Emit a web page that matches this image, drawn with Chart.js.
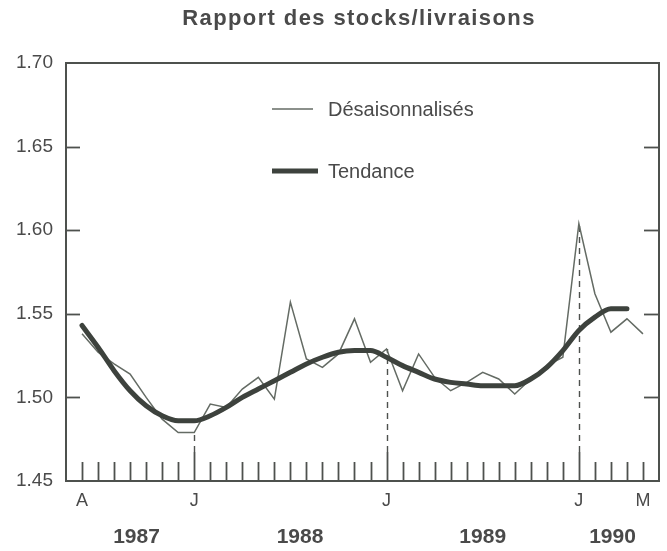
<!DOCTYPE html>
<html lang="fr">
<head>
<meta charset="utf-8">
<title>Rapport des stocks/livraisons</title>
<script src="https://cdn.jsdelivr.net/npm/chart.js@4.4.1/dist/chart.umd.min.js"></script>
<style>
  html, body { margin: 0; padding: 0; background: #ffffff; }
  #wrap { width: 667px; height: 551px; }
</style>
</head>
<body>
<div id="wrap"><canvas id="c" width="667" height="551"></canvas></div>
<script>
// Mois (index 0 = premier mois de la série, jusqu'à mai 1990)
const mois = Array.from({ length: 36 }, (_, i) => i);

// Repères de l'axe horizontal
const reperesMois = [0, 7, 19, 31, 35];
const etiquettesMois = ['A', 'J', 'J', 'J', 'M'];
const annees = ['1987', '1988', '1989', '1990'];
const centresAnnees = [3.4, 13.6, 25.0, 33.1];

// Rapport des stocks aux livraisons, données désaisonnalisées
const desaisonnalises = [
  1.538, 1.527, 1.520, 1.514, 1.500, 1.487, 1.479, 1.479, 1.496, 1.494,
  1.505, 1.512, 1.499, 1.557, 1.523, 1.518, 1.526, 1.547, 1.521, 1.529,
  1.504, 1.526, 1.512, 1.504, 1.509, 1.515, 1.511, 1.502, 1.511, 1.519,
  1.524, 1.604, 1.562, 1.539, 1.547, 1.538
];

// Tendance
const tendance = [
  1.543, 1.530, 1.516, 1.504, 1.495, 1.489, 1.486, 1.486, 1.489, 1.494,
  1.500, 1.505, 1.510, 1.515, 1.520, 1.524, 1.527, 1.528, 1.528, 1.524,
  1.519, 1.515, 1.511, 1.509, 1.508, 1.507, 1.507, 1.507, 1.511, 1.518,
  1.528, 1.540, 1.548, 1.553, 1.553, null
];

// Graduations de l'axe vertical
const graduationsY = [1.45, 1.50, 1.55, 1.60, 1.65, 1.70];

const FONT = "'Liberation Sans', Arial, Helvetica, sans-serif";
const ENCRE = '#4e514e';
const TEXTE = '#4a4a4a';

const habillage = {
  id: 'habillage',
  beforeDatasetsDraw(chart) {
    const { ctx, chartArea: a, scales: { x, y } } = chart;
    const trait = (x1, y1, x2, y2) => { ctx.beginPath(); ctx.moveTo(x1, y1); ctx.lineTo(x2, y2); ctx.stroke(); };
    ctx.save();
    ctx.strokeStyle = ENCRE;
    ctx.lineWidth = 1.8;
    // graduations mensuelles, vers l'intérieur
    const janviers = reperesMois.filter((m, k) => etiquettesMois[k] === 'J');
    mois.forEach(m => {
      const px = Math.round(x.getPixelForValue(m)) + 0.5;
      const h = janviers.includes(m) ? 29 : 19;
      trait(px, a.bottom, px, a.bottom - h);
    });
    // graduations verticales, des deux côtés
    graduationsY.slice(1, -1).forEach(v => {
      const py = Math.round(y.getPixelForValue(v)) + 0.5;
      trait(a.left, py, a.left + 14, py);
      trait(a.right - 15, py, a.right, py);
    });
    // pointillés des mois de janvier
    ctx.setLineDash([6, 5]);
    ctx.lineWidth = 1.4;
    janviers.forEach(m => {
      const px = Math.round(x.getPixelForValue(m)) + 0.5;
      trait(px, a.bottom - 29, px, y.getPixelForValue(desaisonnalises[m]));
    });
    // cadre
    ctx.setLineDash([]);
    ctx.lineWidth = 2;
    ctx.strokeRect(a.left, a.top, a.right - a.left, a.bottom - a.top);
    ctx.restore();
  },
  afterDraw(chart) {
    const { ctx, scales: { x } } = chart;
    ctx.save();
    // titre
    ctx.fillStyle = TEXTE;
    ctx.font = `bold 22px ${FONT}`;
    ctx.textAlign = 'center';
    ctx.textBaseline = 'middle';
    if ('letterSpacing' in ctx) ctx.letterSpacing = '1.4px';
    ctx.fillText('Rapport des stocks/livraisons', 359, 19);
    if ('letterSpacing' in ctx) ctx.letterSpacing = '0px';
    // années
    ctx.font = `bold 21px ${FONT}`;
    annees.forEach((an, k) => ctx.fillText(an, x.getPixelForValue(centresAnnees[k]), 537));
    // légende
    ctx.textAlign = 'left';
    ctx.font = `20px ${FONT}`;
    const ds = chart.data.datasets;
    const lignes = [[ds[0], 109], [ds[1], 171]];
    lignes.forEach(([d, py]) => {
      ctx.strokeStyle = d.borderColor;
      ctx.lineWidth = d.borderWidth;
      ctx.beginPath();
      ctx.moveTo(272, py);
      ctx.lineTo(d.borderWidth > 2 ? 318 : 313, py);
      ctx.stroke();
      ctx.fillStyle = TEXTE;
      ctx.fillText(d.label, 328, py + 1);
    });
    ctx.restore();
  }
};

new Chart(document.getElementById('c'), {
  type: 'line',
  data: {
    datasets: [
      {
        label: 'Désaisonnalisés',
        data: desaisonnalises.map((v, i) => ({ x: mois[i], y: v })),
        borderColor: '#646b64',
        borderWidth: 1.5,
        pointRadius: 0,
        tension: 0,
        order: 2
      },
      {
        label: 'Tendance',
        data: tendance.map((v, i) => ({ x: mois[i], y: v })),
        borderColor: '#3d423d',
        borderWidth: 5,
        pointRadius: 0,
        cubicInterpolationMode: 'monotone',
        borderCapStyle: 'round',
        spanGaps: false,
        order: 1
      }
    ]
  },
  options: {
    responsive: false,
    animation: false,
    layout: { padding: { top: 63, right: 8, left: 0, bottom: 0 } },
    plugins: {
      legend: { display: false },
      title: { display: false },
      tooltip: { enabled: false }
    },
    scales: {
      x: {
        type: 'linear',
        min: -1,
        max: 36,
        grid: { display: false, drawTicks: false },
        border: { display: false },
        afterFit(scale) { scale.height = 70; },
        afterBuildTicks(scale) { scale.ticks = reperesMois.map(v => ({ value: v })); },
        ticks: {
          autoSkip: false,
          maxRotation: 0,
          padding: 9,
          color: TEXTE,
          font: { family: FONT, size: 18 },
          callback: v => etiquettesMois[reperesMois.indexOf(v)]
        }
      },
      y: {
        min: 1.45,
        max: 1.70,
        grid: { display: false, drawTicks: false },
        border: { display: false },
        afterFit(scale) { scale.width = 66; },
        afterBuildTicks(scale) { scale.ticks = graduationsY.map(v => ({ value: v })); },
        ticks: {
          padding: 13,
          color: TEXTE,
          font: { family: FONT, size: 19 },
          callback: v => v.toFixed(2)
        }
      }
    }
  },
  plugins: [habillage]
});
</script>
</body>
</html>
